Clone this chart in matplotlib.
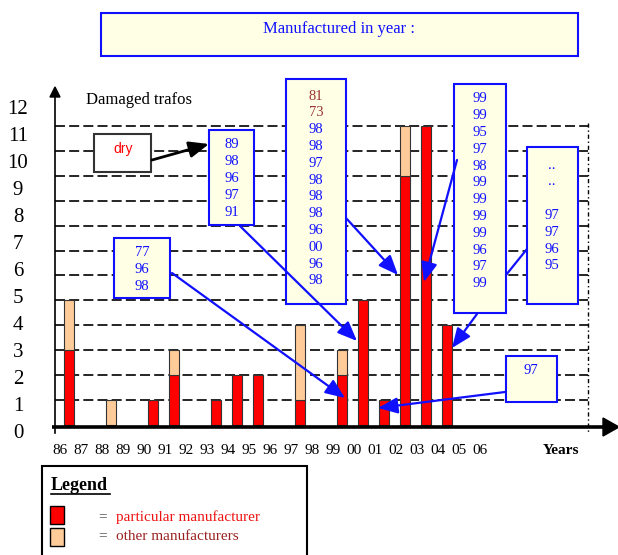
import matplotlib
matplotlib.use("Agg")
import matplotlib.pyplot as plt
import numpy as np
from matplotlib.patches import Rectangle, Polygon, FancyArrowPatch
from matplotlib.lines import Line2D

# ---------------- data ----------------
YEAR_LABELS = ["86", "87", "88", "89", "90", "91", "92", "93", "94", "95", "96",
               "97", "98", "99", "00", "01", "02", "03", "04", "05", "06"]
BAR_YEARS = ["86", "88", "90", "91", "93", "94", "95", "97", "99", "00", "01", "02", "03", "04"]
PARTICULAR = [3, 0, 1, 2, 1, 2, 2, 1, 2, 5, 1, 10, 12, 4]
OTHER =      [2, 1, 0, 1, 0, 0, 0, 3, 1, 0, 0, 2, 0, 0]
Y_TICKS = list(range(0, 13))

BOX1_YEARS = ["89", "98", "96", "97", "91"]
BOX2_YEARS = ["77", "96", "98"]
BOX3_YEARS = ["81", "73", "98", "98", "97", "98", "98", "98", "96", "00", "96", "98"]
BOX4_YEARS = ["99", "99", "95", "97", "98", "99", "99", "99", "99", "96", "97", "99"]
BOX5_YEARS = ["..", "..", "", "97", "97", "96", "95"]
BOX6_YEARS = ["97"]

# ---------------- layout helpers ----------------
W, H = 618, 555
X_ORIGIN_PX, PX_PER_YEAR = 60.0, 21.0
Y_ORIGIN_PX, PX_PER_UNIT = 425.0, 24.917

def fx(px):
    return px / W

def fy(py):
    return 1 - py / H

def dx(px):
    return (px - X_ORIGIN_PX) / PX_PER_YEAR

def dy(py):
    return (Y_ORIGIN_PX - py) / PX_PER_UNIT

SERIF = "Liberation Serif"
SANS = "Liberation Sans"
BLUE = "#1010FF"
DARKRED = "#993333"
FILL = "#FFFFE6"
RED = "#FF0000"
TAN = "#FFCC99"

fig = plt.figure(figsize=(W / 100, H / 100), dpi=100)
ax = fig.add_axes([0, 0, 1, 1])
ax.set_xlim(dx(0), dx(W))
ax.set_ylim(dy(H), dy(0))
ax.axis("off")

# gridlines
for v in Y_TICKS[1:]:
    ax.plot([dx(55), dx(588)], [v, v], color="black", lw=1.2, dashes=(6, 2.5), zorder=1)

# dotted vertical line at right
ax.plot([dx(588), dx(588)], [dy(123), dy(433)], color="black", lw=1.0,
        linestyle=(0, (3, 2, 1, 2)), zorder=1)

# bars
idx = np.array([YEAR_LABELS.index(y) for y in BAR_YEARS], dtype=float)
bar_x = idx + 0.43
part = np.array(PARTICULAR, dtype=float)
oth = np.array(OTHER, dtype=float)
m = part > 0
ax.bar(bar_x[m], part[m], width=0.52, color=RED, edgecolor="#333333", linewidth=0.8, zorder=2)
m2 = oth > 0
ax.bar(bar_x[m2], oth[m2], bottom=part[m2], width=0.52, color=TAN, edgecolor="#333333",
       linewidth=0.8, zorder=2)

# axes lines
ax.plot([dx(55), dx(55)], [dy(433), dy(96)], color="black", lw=1.2, zorder=3)
ax.plot([dx(52), dx(606)], [dy(427), dy(427)], color="black", lw=2.6, zorder=3,
        solid_capstyle="butt")
fig.add_artist(Polygon([[fx(50), fy(97)], [fx(60), fy(97)], [fx(55), fy(87)]],
                       closed=True, color="black", transform=fig.transFigure, zorder=4))
fig.add_artist(Polygon([[fx(603), fy(418)], [fx(603), fy(436)], [fx(619), fy(427)]],
                       closed=True, color="black", transform=fig.transFigure, zorder=4))

# tick labels
for k, lab in enumerate(YEAR_LABELS):
    ax.text(k, dy(450), lab, ha="center", va="center", fontsize=11, family=SERIF)
for k in Y_TICKS:
    ax.text(dx(18), dy(434 - 27.08 * k), str(k), ha="center", va="center",
            fontsize=15, family=SERIF)

fig.text(fx(561), fy(450), "Years", ha="center", va="center", fontsize=11,
         fontweight="bold", family=SERIF)
fig.text(fx(86), fy(100), "Damaged trafos", ha="left", va="center", fontsize=12, family=SERIF)

# title box
fig.add_artist(Rectangle((fx(101), fy(56)), fx(578) - fx(101), fy(13) - fy(56),
                         facecolor=FILL, edgecolor=BLUE, lw=1.5, transform=fig.transFigure))
fig.text(fx(339), fy(29), "Manufactured in year :", ha="center", va="center",
         fontsize=12, color=BLUE, family=SERIF)


def box(x0, y0, x1, y1, edge=BLUE, face=FILL):
    fig.add_artist(Rectangle((fx(x0), fy(y1)), fx(x1) - fx(x0), fy(y0) - fy(y1),
                             facecolor=face, edgecolor=edge, lw=1.5,
                             transform=fig.transFigure, zorder=5))


def lines(xc, y_first, items, colors=None, step=16.8):
    for i, t in enumerate(items):
        c = colors[i] if colors else BLUE
        fig.text(fx(xc), fy(y_first + i * step), t, ha="center", va="center",
                 fontsize=10.5, color=c, family=SERIF, zorder=6)


def arrow(p0, p1, color=BLUE, head=True, lw=1.6):
    style = "-|>,head_length=0.85,head_width=0.35" if head else "-"
    a = FancyArrowPatch((fx(p0[0]), fy(p0[1])), (fx(p1[0]), fy(p1[1])),
                        arrowstyle=style, mutation_scale=14, color=color, lw=lw,
                        shrinkA=0, shrinkB=0, transform=fig.transFigure, zorder=7)
    fig.add_artist(a)

# dry box
box(94, 134, 151, 172, edge="#333333", face="white")
fig.text(fx(123), fy(149), "dry", ha="center", va="center", fontsize=10, color=RED,
         family=SANS, zorder=6)
arrow((152, 160), (209, 144), color="black", lw=2)

box(209, 130, 254, 225)
lines(232, 145, BOX1_YEARS)
box(114, 238, 170, 298)
lines(142, 253, BOX2_YEARS)
box(286, 79, 346, 304)
lines(316, 96, BOX3_YEARS, colors=[DARKRED, DARKRED] + [BLUE] * 10)
box(454, 84, 506, 313)
lines(480, 99, BOX4_YEARS)
box(527, 147, 578, 304)
lines(552, 165, BOX5_YEARS)
box(506, 356, 557, 402)
lines(531, 371, BOX6_YEARS)

# arrows
arrow((172, 273), (345, 398))
arrow((240, 226), (357, 341))
arrow((346, 218), (398, 275))
arrow((457, 160), (424, 282))
arrow((477, 314), (452, 348))
arrow((527, 249), (506, 275), head=False)
arrow((505, 392), (378, 408))

# legend
fig.add_artist(Rectangle((fx(42), fy(600)), fx(307) - fx(42), fy(466) - fy(600),
                         facecolor="white", edgecolor="black", lw=1.5,
                         transform=fig.transFigure, zorder=5))
fig.text(fx(51), fy(485), "Legend", ha="left", va="center", fontsize=13,
         fontweight="bold", family=SERIF, zorder=6)
fig.add_artist(Line2D([fx(51), fx(110)], [fy(494), fy(494)], color="black", lw=1.2,
                      transform=fig.transFigure, zorder=6))
fig.add_artist(Rectangle((fx(50), fy(524)), fx(64) - fx(50), fy(506) - fy(524),
                         facecolor=RED, edgecolor="black", lw=1,
                         transform=fig.transFigure, zorder=6))
fig.add_artist(Rectangle((fx(50), fy(546)), fx(64) - fx(50), fy(528) - fy(546),
                         facecolor=TAN, edgecolor="black", lw=1,
                         transform=fig.transFigure, zorder=6))
fig.text(fx(103), fy(517), "=", ha="center", va="center", fontsize=11, color="#555555",
         family=SERIF, zorder=6)
fig.text(fx(103), fy(536), "=", ha="center", va="center", fontsize=11, color="#555555",
         family=SERIF, zorder=6)
fig.text(fx(116), fy(517), "particular manufacturer", ha="left", va="center", fontsize=11,
         color="#EE1111", family=SERIF, zorder=6)
fig.text(fx(116), fy(536), "other manufacturers", ha="left", va="center", fontsize=11,
         color="#992222", family=SERIF, zorder=6)

fig.savefig("out.png", dpi=100)
